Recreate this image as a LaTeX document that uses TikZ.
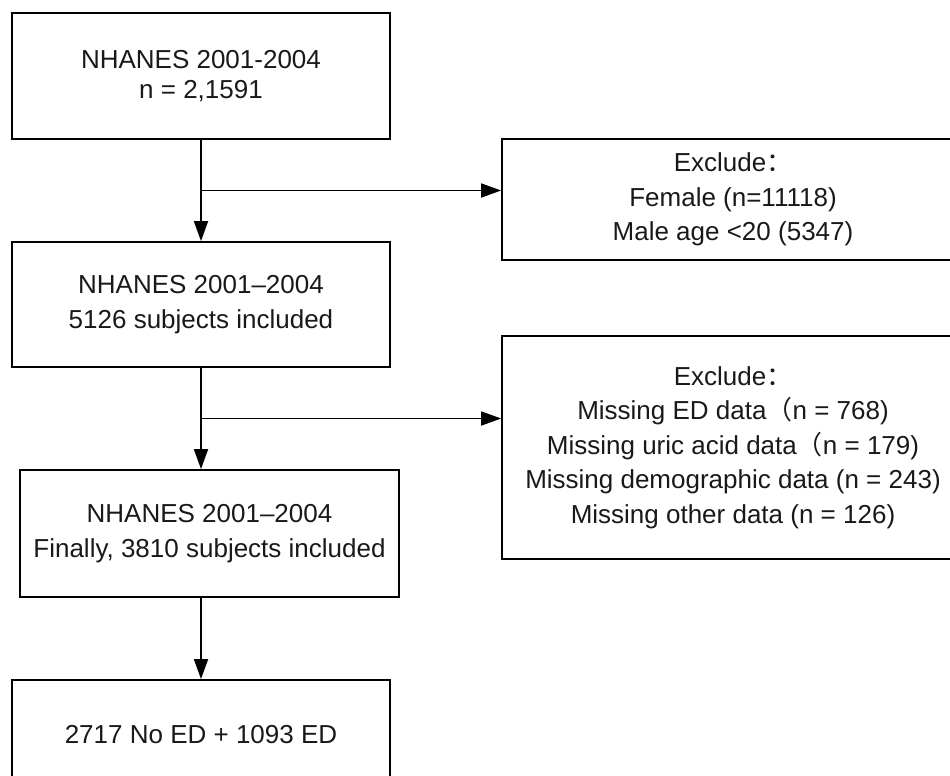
\documentclass[tikz,border=0pt]{standalone}
\usepackage{fontspec}
\setmainfont{Liberation Sans}
\newfontfamily\cjk{Noto Sans CJK SC}
\usetikzlibrary{arrows.meta,calc,positioning}

\begin{document}
\begin{tikzpicture}[x=1pt,y=1pt,
    box/.style={draw,line width=1.8pt,align=center,text=black!90,
      font=\fontsize{26}{34.5}\selectfont,inner sep=0pt},
    flow/.style={-{Triangle[length=20pt,width=14pt]},line width=1.8pt}]
    \useasboundingbox (0,0) rectangle (950,-776);
    \clip (0,0) rectangle (950,-776);
    % main column
    \node[box,minimum width=378pt,minimum height=126pt] (nh_all) at (201,-76)
      {NHANES 2001-2004\\[-5pt] n = 2,1591};
    \node[box,minimum width=378pt,minimum height=125pt] (nh_male) at (201,-304.5)
      {NHANES 2001--2004\\ 5126 subjects included};
    \node[box,minimum width=379pt,minimum height=127pt] (nh_final) at (209.5,-533.5)
      {NHANES 2001--2004\\ Finally, 3810 subjects included};
    \node[box,minimum width=378pt,minimum height=110pt] (nh_groups) at (201,-735)
      {2717 No ED + 1093 ED};
    % exclusions
    \node[box,minimum width=462pt,minimum height=121pt] (ex_sex) at (733,-199.5)
      {Exclude{\cjk ：}\\ Female (n=11118)\\ Male age <20 (5347)};
    \node[box,minimum width=462pt,minimum height=223pt] (ex_miss) at (733,-447.5)
      {Exclude{\cjk ：}\\ Missing ED data{\cjk （}n = 768)\\
       Missing uric acid data{\cjk （}n = 179)\\
       Missing demographic data (n = 243)\\ Missing other data (n = 126)};
    \coordinate (split1) at ($(nh_all.south)!0.5!(nh_male.north)$);
    \coordinate (split2) at ($(nh_male.south)!0.5!(nh_male.south |- nh_final.north)$);
    \draw[flow] (nh_all) -- (nh_male);
    \draw[flow] (split1) -- (split1 -| ex_sex.west);
    \draw[flow] (nh_male.south) -- (nh_male.south |- nh_final.north);
    \draw[flow] (split2) -- (split2 -| ex_miss.west);
    \draw[flow] (nh_male.south |- nh_final.south) -- (nh_groups.north);
\end{tikzpicture}
\end{document}
